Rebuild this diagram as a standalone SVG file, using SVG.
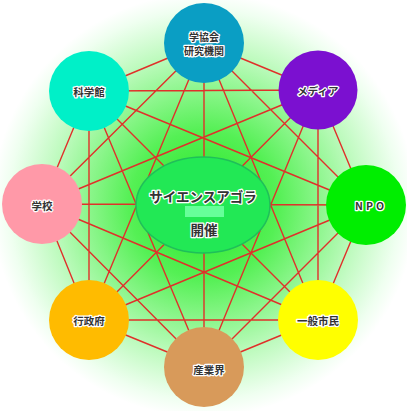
<svg xmlns="http://www.w3.org/2000/svg" width="407" height="411" viewBox="0 0 407 411">
<defs>
<radialGradient id="bg" cx="204" cy="205" r="212" gradientUnits="userSpaceOnUse">
<stop offset="0" stop-color="#22e622"/>
<stop offset="0.35" stop-color="#55f055"/>
<stop offset="0.7" stop-color="#b8fab8"/>
<stop offset="0.92" stop-color="#effff0"/>
<stop offset="1" stop-color="#ffffff"/>
</radialGradient>
<style>
.e{stroke:#e0302a;stroke-width:1.4;fill:none}
.t{font-family:"Noto Sans CJK JP","Noto Sans",sans-serif;font-size:10.5px;font-weight:bold;fill:#333;stroke:#fff;stroke-width:2.5px;stroke-linejoin:round;paint-order:stroke;text-anchor:middle;dominant-baseline:central}
.s{font-size:10px}
.c{font-size:13.5px}
</style>
</defs>
<rect width="407" height="411" fill="#fff"/>
<circle cx="204" cy="205" r="212" fill="url(#bg)"/>
<g id="connectors">
<path class="e" d="M204,43L318,90M204,43L366,205M204,43L318,320M204,43L204,367M204,43L89,320M204,43L42,204M204,43L89,91
M318,90L366,205M318,90L318,320M318,90L204,367M318,90L89,320M318,90L42,204M318,90L89,91
M366,205L318,320M366,205L204,367M366,205L89,320M366,205L42,204M366,205L89,91
M318,320L204,367M318,320L89,320M318,320L42,204M318,320L89,91
M204,367L89,320M204,367L42,204M204,367L89,91
M89,320L42,204M89,320L89,91
M42,204L89,91"/>
</g>
<g id="center">
<ellipse cx="203" cy="205" rx="67" ry="48" fill="#22e855" stroke="#1fbf5a" stroke-width="1.5"/>
<rect x="185" y="206" width="39" height="11" fill="#66ff99"/>
<text class="t c" x="203" y="196">サイエンスアゴラ</text>
<text class="t c" x="204" y="229">開催</text>
</g>
<g id="gakkyokai">
<circle cx="204" cy="43" r="40" fill="#0a9ec4"/>
<text class="t s" x="204" y="36.5">学協会</text>
<text class="t s" x="204" y="50.5">研究機関</text>
</g>
<g id="media">
<circle cx="318" cy="90" r="39.5" fill="#7b10d0"/>
<text class="t" x="318" y="90">メディア</text>
</g>
<g id="kagakukan">
<circle cx="89" cy="91" r="40" fill="#00f0c8"/>
<text class="t" x="89" y="91">科学館</text>
</g>
<g id="gakko">
<circle cx="42" cy="204" r="40" fill="#ff99a8"/>
<text class="t" x="42" y="205">学校</text>
</g>
<g id="npo">
<circle cx="366" cy="205" r="40" fill="#00ee00"/>
<text class="t" x="371" y="205" letter-spacing="3">NPO</text>
</g>
<g id="gyoseifu">
<circle cx="89" cy="320" r="40" fill="#ffbb00"/>
<text class="t" x="89" y="320">行政府</text>
</g>
<g id="ippanshimin">
<circle cx="318" cy="320" r="40" fill="#ffff00"/>
<text class="t" x="318" y="320">一般市民</text>
</g>
<g id="sangyokai">
<circle cx="204" cy="367" r="40" fill="#d89a5a"/>
<text class="t" x="209" y="369">産業界</text>
</g>
</svg>
